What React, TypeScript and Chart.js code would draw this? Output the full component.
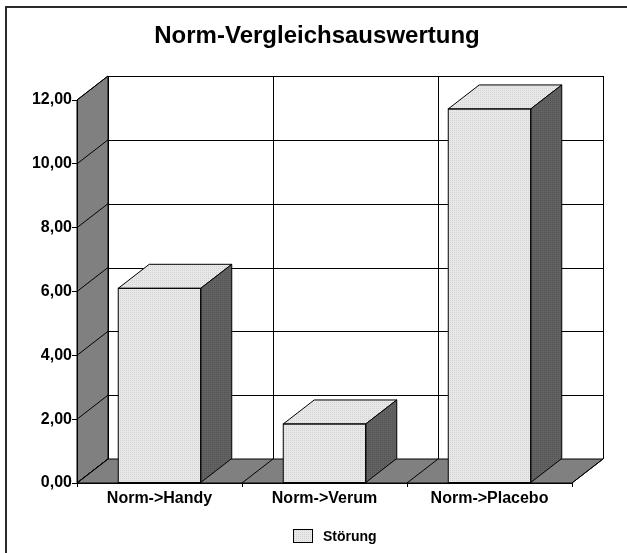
import React, { useEffect, useRef } from "react";
import { Chart, registerables } from "chart.js";

Chart.register(...registerables);

const TITLE = "Norm-Vergleichsauswertung";
const CATEGORIES = ["Norm->Handy", "Norm->Verum", "Norm->Placebo"];
const SERIES_NAME = "Störung";
const VALUES = [6.1, 1.85, 11.72];
const Y_MIN = 0;
const Y_MAX = 12;
const Y_STEP = 2;

const DEPTH_X = 31;
const DEPTH_Y = -24;
const FONT = 'Arial, "Liberation Sans", Helvetica, sans-serif';

function makePattern(base: string, dot: string): CanvasPattern | string {
  const pc = document.createElement("canvas");
  pc.width = 2;
  pc.height = 2;
  const c = pc.getContext("2d");
  if (!c) return base;
  c.fillStyle = base;
  c.fillRect(0, 0, 2, 2);
  c.fillStyle = dot;
  c.fillRect(0, 0, 1, 1);
  const p = c.createPattern(pc, "repeat");
  return p || base;
}

export default function App() {
  const ref = useRef<HTMLCanvasElement | null>(null);

  useEffect(() => {
    if (!ref.current) return;
    const light = makePattern("#e8e8e8", "#d2d2d2");
    const dark = makePattern("#626262", "#545454");

    const threeD = {
      id: "threeD",
      beforeDraw(chart: any) {
        const ctx = chart.ctx as CanvasRenderingContext2D;
        const { left, right, top, bottom } = chart.chartArea;
        const ys = chart.scales.y;
        const xs = chart.scales.x;
        const dx = DEPTH_X;
        const dy = DEPTH_Y;
        ctx.save();
        ctx.fillStyle = "#2a2a2a";
        ctx.fillRect(5, 6, 622, 2);
        ctx.fillRect(5, 6, 2, 547);

        ctx.lineWidth = 1;
        ctx.strokeStyle = "#000";
        ctx.fillStyle = "#ffffff";
        ctx.fillRect(left + dx, top + dy, right - left, bottom - top);
        const tickVals: number[] = [];
        for (let v = Y_MIN; v <= Y_MAX + 1e-9; v += Y_STEP) tickVals.push(v);
        ctx.beginPath();
        tickVals.forEach((v) => {
          const py = Math.round(ys.getPixelForValue(v) + dy) + 0.5;
          ctx.moveTo(left + dx, py);
          ctx.lineTo(right + dx, py);
        });
        for (let i = 0; i <= CATEGORIES.length; i++) {
          let bx: number;
          if (i === 0) bx = left;
          else if (i === CATEGORIES.length) bx = right;
          else bx = (xs.getPixelForValue(i - 1) + xs.getPixelForValue(i)) / 2;
          const px = Math.round(bx + dx) + 0.5;
          ctx.moveTo(px, top + dy);
          ctx.lineTo(px, bottom + dy);
        }
        ctx.stroke();

        ctx.beginPath();
        ctx.moveTo(left, bottom);
        ctx.lineTo(left, top);
        ctx.lineTo(left + dx, top + dy);
        ctx.lineTo(left + dx, bottom + dy);
        ctx.closePath();
        ctx.fillStyle = "#808080";
        ctx.fill();
        ctx.stroke();
        ctx.beginPath();
        tickVals.forEach((v) => {
          const py = ys.getPixelForValue(v);
          ctx.moveTo(left, py);
          ctx.lineTo(left + dx, py + dy);
        });
        ctx.stroke();

        ctx.beginPath();
        ctx.moveTo(left, bottom);
        ctx.lineTo(right, bottom);
        ctx.lineTo(right + dx, bottom + dy);
        ctx.lineTo(left + dx, bottom + dy);
        ctx.closePath();
        ctx.fillStyle = "#808080";
        ctx.fill();
        ctx.stroke();
        ctx.beginPath();
        for (let i = 0; i <= CATEGORIES.length; i++) {
          let bx: number;
          if (i === 0) bx = left;
          else if (i === CATEGORIES.length) bx = right;
          else bx = (xs.getPixelForValue(i - 1) + xs.getPixelForValue(i)) / 2;
          ctx.moveTo(bx, bottom);
          ctx.lineTo(bx + dx, bottom + dy);
        }
        ctx.stroke();
        ctx.restore();
      },
      afterDatasetsDraw(chart: any) {
        const ctx = chart.ctx as CanvasRenderingContext2D;
        const meta = chart.getDatasetMeta(0);
        const dx = DEPTH_X;
        const dy = DEPTH_Y;
        ctx.save();
        ctx.lineWidth = 1;
        ctx.strokeStyle = "#000";
        meta.data.forEach((el: any) => {
          const { x, y, base, width } = el.getProps(["x", "y", "base", "width"], true);
          const L = x - width / 2;
          const R = x + width / 2;
          ctx.beginPath();
          ctx.moveTo(L, y);
          ctx.lineTo(L + dx, y + dy);
          ctx.lineTo(R + dx, y + dy);
          ctx.lineTo(R, y);
          ctx.closePath();
          ctx.fillStyle = light as any;
          ctx.fill();
          ctx.stroke();
          ctx.beginPath();
          ctx.moveTo(R, y);
          ctx.lineTo(R + dx, y + dy);
          ctx.lineTo(R + dx, base + dy);
          ctx.lineTo(R, base);
          ctx.closePath();
          ctx.fillStyle = dark as any;
          ctx.fill();
          ctx.stroke();
          ctx.strokeRect(L, y, width, base - y);
        });
        ctx.restore();
      },
      afterDraw(chart: any) {
        const ctx = chart.ctx as CanvasRenderingContext2D;
        ctx.save();
        ctx.fillStyle = light as any;
        ctx.fillRect(293, 529, 20, 14);
        ctx.strokeStyle = "#000";
        ctx.lineWidth = 1;
        ctx.strokeRect(293.5, 529.5, 19, 13);
        ctx.fillStyle = "#000";
        ctx.font = `bold 14px ${FONT}`;
        ctx.textBaseline = "middle";
        ctx.textAlign = "left";
        ctx.fillText(SERIES_NAME, 323, 537);
        ctx.restore();
      },
    };

    const chart = new Chart(ref.current, {
      type: "bar",
      data: {
        labels: CATEGORIES,
        datasets: [
          {
            label: SERIES_NAME,
            data: VALUES,
            backgroundColor: light as any,
            borderColor: "#000",
            borderWidth: 0,
            categoryPercentage: 1,
            barPercentage: 0.5,
          },
        ],
      },
      options: {
        responsive: false,
        animation: false,
        events: [],
        layout: { padding: { left: 7, right: 0, top: 0, bottom: 30 } },
        plugins: {
          legend: { display: false },
          tooltip: { enabled: false },
          title: {
            display: true,
            text: TITLE,
            color: "#000",
            font: { family: FONT, size: 24, weight: "bold", lineHeight: 1.2 },
            padding: { top: 22, bottom: 49.2 },
          },
        },
        scales: {
          x: {
            grid: { drawOnChartArea: false, tickLength: 4, color: "#000", offset: true },
            border: { color: "#000" },
            ticks: { color: "#000", font: { family: FONT, size: 16, weight: "bold" }, padding: 2, maxRotation: 0 },
            afterFit: (s: any) => {
              s.height = 40;
            },
          },
          y: {
            min: Y_MIN,
            max: Y_MAX,
            grid: { drawOnChartArea: false, tickLength: 5, color: "#000" },
            border: { color: "#000" },
            ticks: {
              stepSize: Y_STEP,
              color: "#000",
              padding: 0,
              font: { family: FONT, size: 16, weight: "bold" },
              callback: (v: any) => Number(v).toFixed(2).replace(".", ","),
            },
            afterFit: (s: any) => {
              s.width = 70;
            },
          },
          yRight: {
            position: "right",
            min: 0,
            max: 1,
            grid: { display: false },
            border: { display: false },
            ticks: { display: false },
            afterFit: (s: any) => {
              s.width = 55;
            },
          },
        },
      },
      plugins: [threeD],
    });
    return () => chart.destroy();
  }, []);

  return (
    <div style={{ position: "fixed", left: 0, top: 0, width: 627, height: 553, background: "#fff" }}>
      <canvas ref={ref} width={627} height={553} style={{ display: "block", width: 627, height: 553 }} />
    </div>
  );
}
